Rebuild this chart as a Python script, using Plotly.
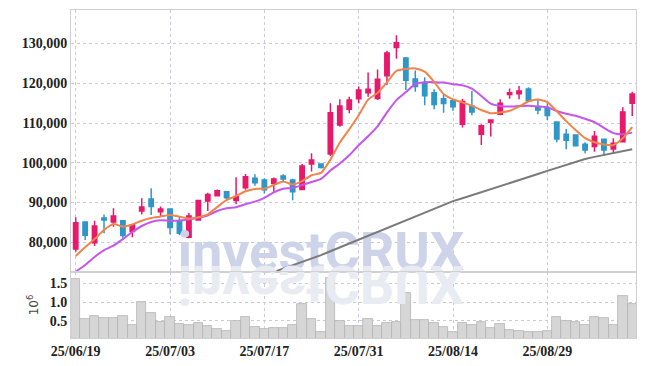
import plotly.graph_objects as go
from plotly.subplots import make_subplots

dates = [
    "2025-06-19", "2025-06-20", "2025-06-23", "2025-06-24", "2025-06-25", "2025-06-26", "2025-06-27", "2025-06-30",
    "2025-07-01", "2025-07-02", "2025-07-03", "2025-07-04", "2025-07-07", "2025-07-08", "2025-07-09", "2025-07-10",
    "2025-07-11", "2025-07-14", "2025-07-15", "2025-07-16", "2025-07-17", "2025-07-18", "2025-07-21", "2025-07-22",
    "2025-07-23", "2025-07-24", "2025-07-25", "2025-07-28", "2025-07-29", "2025-07-30", "2025-07-31",
    "2025-08-01", "2025-08-04", "2025-08-05", "2025-08-06", "2025-08-07", "2025-08-08", "2025-08-11", "2025-08-12",
    "2025-08-13", "2025-08-14", "2025-08-18", "2025-08-19", "2025-08-20", "2025-08-21", "2025-08-22", "2025-08-25",
    "2025-08-26", "2025-08-27", "2025-08-28", "2025-08-29",
    "2025-09-01", "2025-09-02", "2025-09-03", "2025-09-04", "2025-09-05", "2025-09-08", "2025-09-09", "2025-09-10",
    "2025-09-11",
]

open_ = [78300, 85100, 79900, 86100, 85100, 85400, 82700, 87900, 90900, 87700,
         88400, 85400, 81300, 85600, 90400, 91700, 92700, 90500, 93700, 96100,
         95700, 94800, 96700, 95700, 93300, 99700, 99700, 102200, 109500, 113500,
         116100, 117600, 116200, 121900, 129000, 126400, 121100, 120200, 117600, 116100,
         115600, 109700, 114300, 107200, 110200, 112200, 117200, 117400, 118600, 113900,
         113900, 110300, 107200, 107000, 104700, 104100, 105900, 103500, 105300, 115000]
high = [86300, 85200, 85400, 87000, 88600, 85600, 84500, 91100, 93600, 89000,
        88500, 86400, 87400, 90600, 92500, 93300, 92800, 96400, 97200, 97100,
        96100, 96300, 97100, 96000, 99700, 102400, 99800, 115000, 116000, 116600,
        119200, 122700, 123500, 128200, 132100, 126600, 123200, 121500, 118500, 117100,
        115800, 116100, 118100, 109700, 110900, 116000, 118700, 119300, 119000, 115800,
        115000, 110400, 108500, 107200, 105200, 108000, 106000, 106200, 114000, 117900]
low = [77600, 80600, 79100, 82300, 83900, 80600, 81300, 87000, 86900, 86600,
       82000, 81800, 81000, 85400, 87900, 91500, 90500, 89600, 93200, 94200,
       92300, 92700, 95100, 90600, 93200, 97800, 98600, 101700, 109100, 112500,
       115000, 116600, 115800, 119600, 126200, 118300, 117900, 114500, 113500, 112600,
       113100, 108900, 112000, 104500, 106600, 112000, 116100, 116000, 115400, 112200,
       110800, 105200, 103400, 104100, 102400, 102800, 101700, 102200, 105100, 111800]
close = [84900, 81800, 84100, 85600, 86600, 81700, 84400, 88900, 89000, 88400,
         83700, 82300, 86600, 90500, 92000, 93000, 91200, 91500, 96500, 95000,
         93200, 95900, 95900, 92700, 99200, 100700, 98800, 112600, 114300, 115800,
         118300, 118500, 121000, 127600, 130200, 120800, 119200, 116900, 114700, 114900,
         114100, 115400, 112800, 109300, 110800, 115000, 117600, 118100, 115600, 113300,
         111900, 106000, 105700, 104300, 103200, 106700, 103200, 104900, 112800, 117300]
volume = [1620000, 540000, 620000, 570000, 570000, 620000, 390000, 1000000, 700000, 460000,
          600000, 420000, 390000, 440000, 360000, 280000, 230000, 500000, 600000, 330000,
          280000, 310000, 310000, 390000, 940000, 540000, 200000, 1640000, 500000, 370000,
          370000, 540000, 370000, 450000, 470000, 1230000, 530000, 530000, 450000, 340000,
          210000, 450000, 390000, 470000, 310000, 420000, 260000, 230000, 200000, 200000,
          230000, 600000, 500000, 470000, 390000, 600000, 570000, 390000, 1160000, 950000]

ma5 = [76550, 78740, 80830, 83090, 84600, 83960, 84480, 85440, 86120, 86480,
       86880, 86460, 86000, 86300, 87020, 88880, 90660, 91640, 92840, 93440,
       93480, 94420, 95300, 94540, 95380, 96880, 97460, 100800, 105120, 108440,
       111960, 115900, 117580, 120240, 123120, 123620, 123760, 122940, 120360, 117300,
       115960, 115200, 114380, 113300, 112480, 112660, 113100, 114160, 115420, 115920,
       115300, 112980, 110500, 108240, 106220, 105180, 104620, 104460, 106160, 108960]
ma10 = [72600, 74300, 76300, 78060, 79150, 80830, 82590, 84100, 85100, 85540,
        85420, 85470, 85720, 86210, 86750, 87880, 88560, 88820, 89570, 90230,
        91180, 92540, 93470, 93690, 94410, 95180, 95940, 98050, 99830, 101910,
        104420, 106680, 109190, 112680, 115780, 117790, 119830, 120260, 120300, 120210,
        119790, 119480, 118660, 116830, 114890, 114310, 114150, 114270, 114360, 114200,
        113980, 113040, 112330, 111830, 111070, 110240, 108800, 107480, 107200, 107600]
ma_long = [None] * 20 + [71700, 72530, 73370, 74200, 75040, 75880, 76770, 77750, 78730, 79700,
                         80680, 81660, 82640, 83610, 84590, 85570, 86550, 87520, 88500, 89480,
                         90360, 91100, 91840, 92580, 93320, 94060, 94840, 95630, 96410, 97190,
                         97980, 98760, 99540, 100300, 100950, 101500, 102000, 102500, 102950, 103400]

price_ticks = [80000, 90000, 100000, 110000, 120000, 130000]
vol_ticks = [0.5, 1.0, 1.5]
tick_every = 10
watermark = "investCRUX"

idx = list(range(len(dates)))
tick_idx = idx[::tick_every]
tick_text = [dates[i][2:].replace("-", "/") for i in tick_idx]

RED = "#E8196B"
BLUE = "#2F96C8"
GRID = "#C8CADB"
FRAME = "#CFCFD4"
TICKFONT = dict(family="Liberation Sans Narrow", size=14, color="#222222", weight="bold")

fig = make_subplots(rows=2, cols=1, shared_xaxes=True, vertical_spacing=0,
                    row_heights=[262 / 328, 66 / 328])

# watermark (moved beneath the other marks after drawing)
fig.add_trace(go.Scatter(x=[26.0], y=[76500], mode="text", text=[watermark],
                         textposition="middle center",
                         textfont=dict(family="Roboto", size=54, color="#CDD3E8", weight="bold"),
                         hoverinfo="skip", showlegend=False, cliponaxis=False), row=1, col=1)
fig.add_trace(go.Scatter(x=[26.0], y=[1.34], mode="text", text=[watermark],
                         textposition="middle center",
                         textfont=dict(family="Roboto", size=54, color="#E9EBF3", weight="bold"),
                         hoverinfo="skip", showlegend=False, cliponaxis=False), row=2, col=1)

fig.add_trace(go.Candlestick(
    x=idx, open=open_, high=high, low=low, close=close,
    increasing=dict(line=dict(color=RED, width=1.5), fillcolor=RED),
    decreasing=dict(line=dict(color=BLUE, width=1.5), fillcolor=BLUE),
    whiskerwidth=0, showlegend=False, hoverinfo="skip"), row=1, col=1)

fig.add_trace(go.Scatter(x=idx, y=ma_long, mode="lines", line=dict(color="#7A7A7A", width=2),
                         showlegend=False, hoverinfo="skip"), row=1, col=1)
fig.add_trace(go.Scatter(x=idx, y=ma10, mode="lines", line=dict(color="#C655EC", width=2, shape="spline", smoothing=0.6),
                         showlegend=False, hoverinfo="skip"), row=1, col=1)
fig.add_trace(go.Scatter(x=idx, y=ma5, mode="lines", line=dict(color="#F0844A", width=2, shape="spline", smoothing=0.6),
                         showlegend=False, hoverinfo="skip"), row=1, col=1)

fig.add_trace(go.Bar(x=idx, y=[v / 1e6 for v in volume],
                     marker=dict(color="#D6D6D6", line=dict(color="#B4B4B4", width=0.8)),
                     showlegend=False, hoverinfo="skip"), row=2, col=1)

fig.update_layout(
    width=645, height=366,
    margin=dict(l=71, r=9, t=10, b=28),
    paper_bgcolor="white", plot_bgcolor="white",
    bargap=0, boxgap=0.34,
    showlegend=False,
)

common_x = dict(range=[-0.5, 59.4], tickvals=tick_idx, showgrid=True, gridcolor=GRID, griddash="dot",
                gridwidth=1, showline=True, mirror=True, linecolor=FRAME, linewidth=1, zeroline=False,
                ticks="", automargin=False, rangeslider=dict(visible=False))
fig.update_xaxes(**common_x)
fig.update_xaxes(showticklabels=False, row=1, col=1)
fig.update_xaxes(ticktext=tick_text, showticklabels=True, tickfont=TICKFONT, row=2, col=1)

fig.update_yaxes(range=[72530, 138450], tickvals=price_ticks, tickformat=",d", tickfont=TICKFONT,
                 showgrid=True, gridcolor=GRID, griddash="dot", showline=True, mirror=True,
                 linecolor=FRAME, linewidth=1, zeroline=False, ticks="", automargin=False, row=1, col=1)
fig.update_yaxes(range=[0.048, 1.80], tickvals=vol_ticks, tickformat=".1f", tickfont=TICKFONT,
                 showgrid=True, gridcolor=GRID, griddash="dot", showline=True, mirror=True,
                 linecolor=FRAME, linewidth=1, zeroline=False, ticks="", automargin=False,
                 title=dict(text="10<sup>6</sup>", standoff=8,
                            font=dict(family="DejaVu Sans", size=12, color="#444444")),
                 row=2, col=1)

post = """
document.documentElement.style.margin = '0';
document.body.style.margin = '0';
document.body.style.padding = '0';
var gd = document.getElementById('{plot_id}');
var texts = Array.prototype.slice.call(gd.querySelectorAll('g.textpoint text')).filter(function(t){
  return t.textContent === 'investCRUX';
});
texts.forEach(function(t){
  var tr = t.closest('g.trace');
  var plotg = tr ? tr.closest('g.plot') : null;
  if (plotg) { plotg.insertBefore(tr, plotg.firstChild); }
});
if (texts.length > 1) {
  var refl = texts.reduce(function(a, b){
    return a.getBoundingClientRect().top > b.getBoundingClientRect().top ? a : b;
  });
  refl.style.transformBox = 'fill-box';
  refl.style.transformOrigin = 'center';
  refl.style.transform = 'scaleY(-1)';
}
"""

fig.write_html("out.html", post_script=post, config={"displayModeBar": False})
